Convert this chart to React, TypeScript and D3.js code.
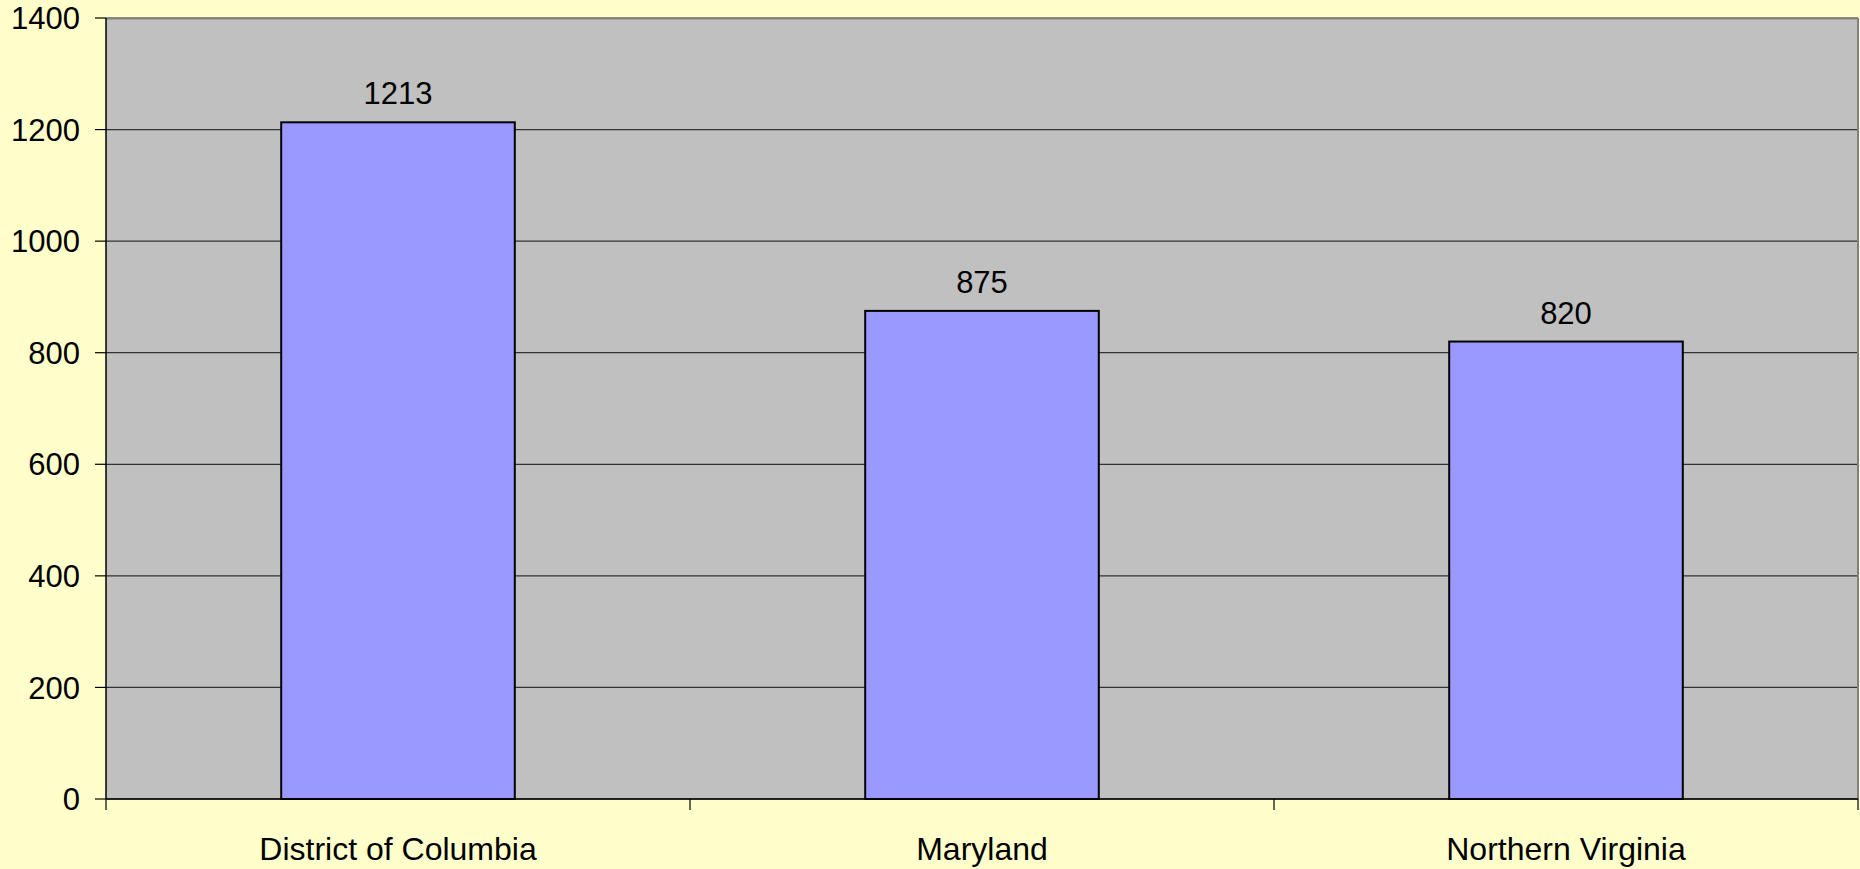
import React from "react";
import { scaleBand, scaleLinear } from "d3";

const regions = ["District of Columbia", "Maryland", "Northern Virginia"];
const counts = [1213, 875, 820];
const yTicks = [0, 200, 400, 600, 800, 1000, 1200, 1400];

const App = () => {
  const width = 1860;
  const height = 869;
  const margin = { top: 18, right: 2, bottom: 70, left: 106 };
  const innerW = width - margin.left - margin.right;
  const innerH = height - margin.top - margin.bottom;

  // x, y scales
  const x = scaleBand<string>().domain(regions).range([0, innerW]).paddingInner(0).paddingOuter(0);
  const y = scaleLinear().domain([0, 1400]).range([innerH, 0]);
  const barW = x.bandwidth() * 0.4;
  const font = "'Liberation Sans', Arial, sans-serif";
  const fs = 31;

  return (
    <svg
      width={width}
      height={height}
      style={{ position: "absolute", left: 0, top: 0, background: "#FFFFCC" }}
      fontFamily={font}
    >
      <g transform={`translate(${margin.left},${margin.top})`}>
        <rect x={0} y={0} width={innerW} height={innerH} fill="#C0C0C0" />
        {/* gridlines */}
        {yTicks.map((t) => (
          <line key={t} x1={0} x2={innerW} y1={y(t)} y2={y(t)} stroke="#333" strokeWidth={1.2} />
        ))}
        {/* frame */}
        <line x1={0} x2={innerW} y1={0.5} y2={0.5} stroke="#808080" strokeWidth={2} />
        <line x1={innerW} x2={innerW} y1={0} y2={innerH} stroke="#808080" strokeWidth={2} />
        {/* bars */}
        {regions.map((r, i) => (
          <g key={r}>
            <rect
              x={x(r)! + (x.bandwidth() - barW) / 2}
              y={y(counts[i])}
              width={barW}
              height={innerH - y(counts[i])}
              fill="#9999FF"
              stroke="#000"
              strokeWidth={2}
            />
            <text
              x={x(r)! + x.bandwidth() / 2}
              y={y(counts[i]) - 18}
              textAnchor="middle"
              fontSize={fs}
              fill="#000"
            >
              {counts[i]}
            </text>
          </g>
        ))}
        {/* y axis */}
        <line x1={0} x2={0} y1={0} y2={innerH} stroke="#000" strokeWidth={1.5} />
        {yTicks.map((t) => (
          <g key={t} transform={`translate(0,${y(t)})`}>
            <line x1={-11} x2={0} stroke="#000" strokeWidth={1.2} />
            <text x={-26} dy="0.36em" textAnchor="end" fontSize={fs} fill="#000">
              {t}
            </text>
          </g>
        ))}
        {/* x axis */}
        <line x1={0} x2={innerW} y1={innerH} y2={innerH} stroke="#000" strokeWidth={1.5} />
        {[0, 1, 2, 3].map((i) => (
          <line key={i} x1={i * x.bandwidth()} x2={i * x.bandwidth()} y1={innerH} y2={innerH + 11} stroke="#000" strokeWidth={1.2} />
        ))}
        {regions.map((r) => (
          <text
            key={r}
            x={x(r)! + x.bandwidth() / 2}
            y={innerH + 61}
            textAnchor="middle"
            fontSize={32}
            fill="#000"
          >
            {r}
          </text>
        ))}
      </g>
    </svg>
  );
};

export default App;
